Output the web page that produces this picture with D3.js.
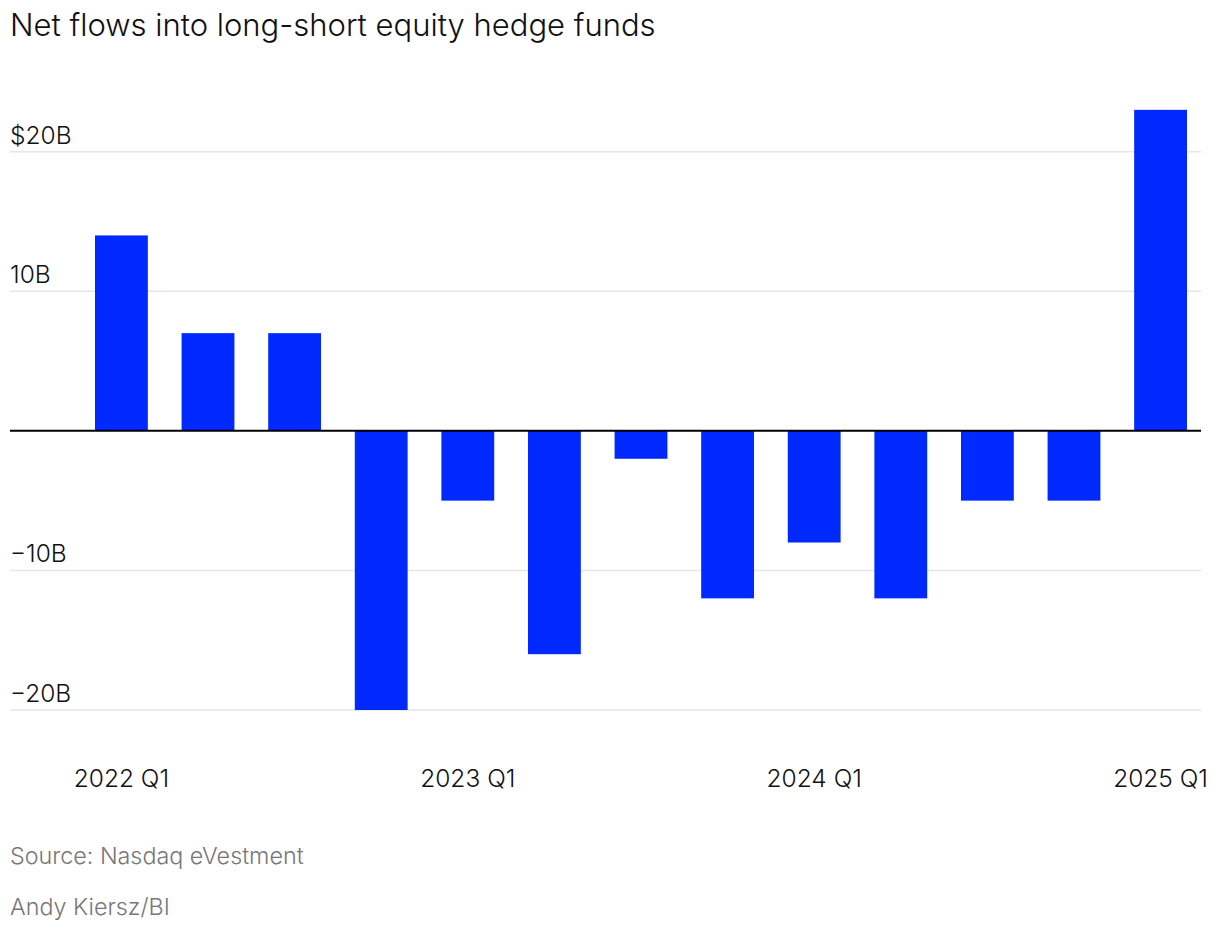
<!DOCTYPE html>
<html>
<head>
	<meta charset="utf-8">
	<title>Net flows into long-short equity hedge funds</title>
	<script src="https://cdn.jsdelivr.net/npm/d3@7"></script>
	<style>
		body { margin: 0; background: #fff; font-family: Inter, Roboto, "Liberation Sans", sans-serif; font-weight: 300; }
	</style>
</head>
<body>
	<div id="chart"></div>
	<script>

	// data
	const quarters = ["2022 Q1", "2022 Q2", "2022 Q3", "2022 Q4",
		"2023 Q1", "2023 Q2", "2023 Q3", "2023 Q4",
		"2024 Q1", "2024 Q2", "2024 Q3", "2024 Q4", "2025 Q1"];
	const flows = [14, 7, 7, -20, -5, -16, -2, -12, -8, -12, -5, -5, 23]; // $B
	const yTicks = [-20, -10, 10, 20];
	const xTickLabels = ["2022 Q1", "2023 Q1", "2024 Q1", "2025 Q1"];

	const width = 1220;
	const height = 930;
	const barColor = "#0029ff";

	const svg = d3.select("#chart")
		.append("svg")
		.attr("width", width)
		.attr("height", height);

	const x = d3.scaleBand()
		.domain(quarters)
		.range([95, 1187])
		.paddingInner(0.39)
		.paddingOuter(0);

	const y = d3.scaleLinear()
		.domain([-20, 20])
		.range([710, 151.7]);

	// title
	svg.append("text")
		.attr("x", 10)
		.attr("y", 36)
		.attr("fill", "#111")
		.style("font-size", "31px")
		.text("Net flows into long-short equity hedge funds");

	// gridlines + y labels
	const grid = svg.append("g");
	grid.selectAll("line")
		.data(yTicks)
		.join("line")
		.attr("x1", 10)
		.attr("x2", 1201)
		.attr("y1", d => y(d))
		.attr("y2", d => y(d))
		.attr("stroke", "#e6e6e6")
		.attr("stroke-width", 1.5);

	grid.selectAll("text")
		.data(yTicks)
		.join("text")
		.attr("x", 10)
		.attr("y", d => y(d) - 8)
		.attr("fill", "#111")
		.style("font-size", "24.5px")
		.text(d => (d === 20 ? "$" : "") + (d < 0 ? "\u2212" + Math.abs(d) : d) + "B");

	// bars
	svg.append("g")
		.selectAll("rect")
		.data(flows)
		.join("rect")
		.attr("x", (d, i) => x(quarters[i]))
		.attr("width", x.bandwidth())
		.attr("y", d => y(Math.max(0, d)))
		.attr("height", d => Math.abs(y(d) - y(0)))
		.attr("fill", barColor);

	// zero line
	svg.append("line")
		.attr("x1", 10)
		.attr("x2", 1201)
		.attr("y1", y(0))
		.attr("y2", y(0))
		.attr("stroke", "#000")
		.attr("stroke-width", 2);

	// x labels
	svg.append("g")
		.selectAll("text")
		.data(xTickLabels)
		.join("text")
		.attr("x", d => x(d) + x.bandwidth() / 2)
		.attr("y", 787)
		.attr("text-anchor", "middle")
		.attr("fill", "#111")
		.style("font-size", "24.5px")
		.text(d => d);

	// footer
	svg.append("text")
		.attr("x", 10)
		.attr("y", 864)
		.attr("fill", "#777")
		.style("font-size", "23.3px")
		.text("Source: Nasdaq eVestment");

	svg.append("text")
		.attr("x", 10)
		.attr("y", 915)
		.attr("fill", "#777")
		.style("font-size", "23.3px")
		.text("Andy Kiersz/BI");

	</script>
</body>
</html>
